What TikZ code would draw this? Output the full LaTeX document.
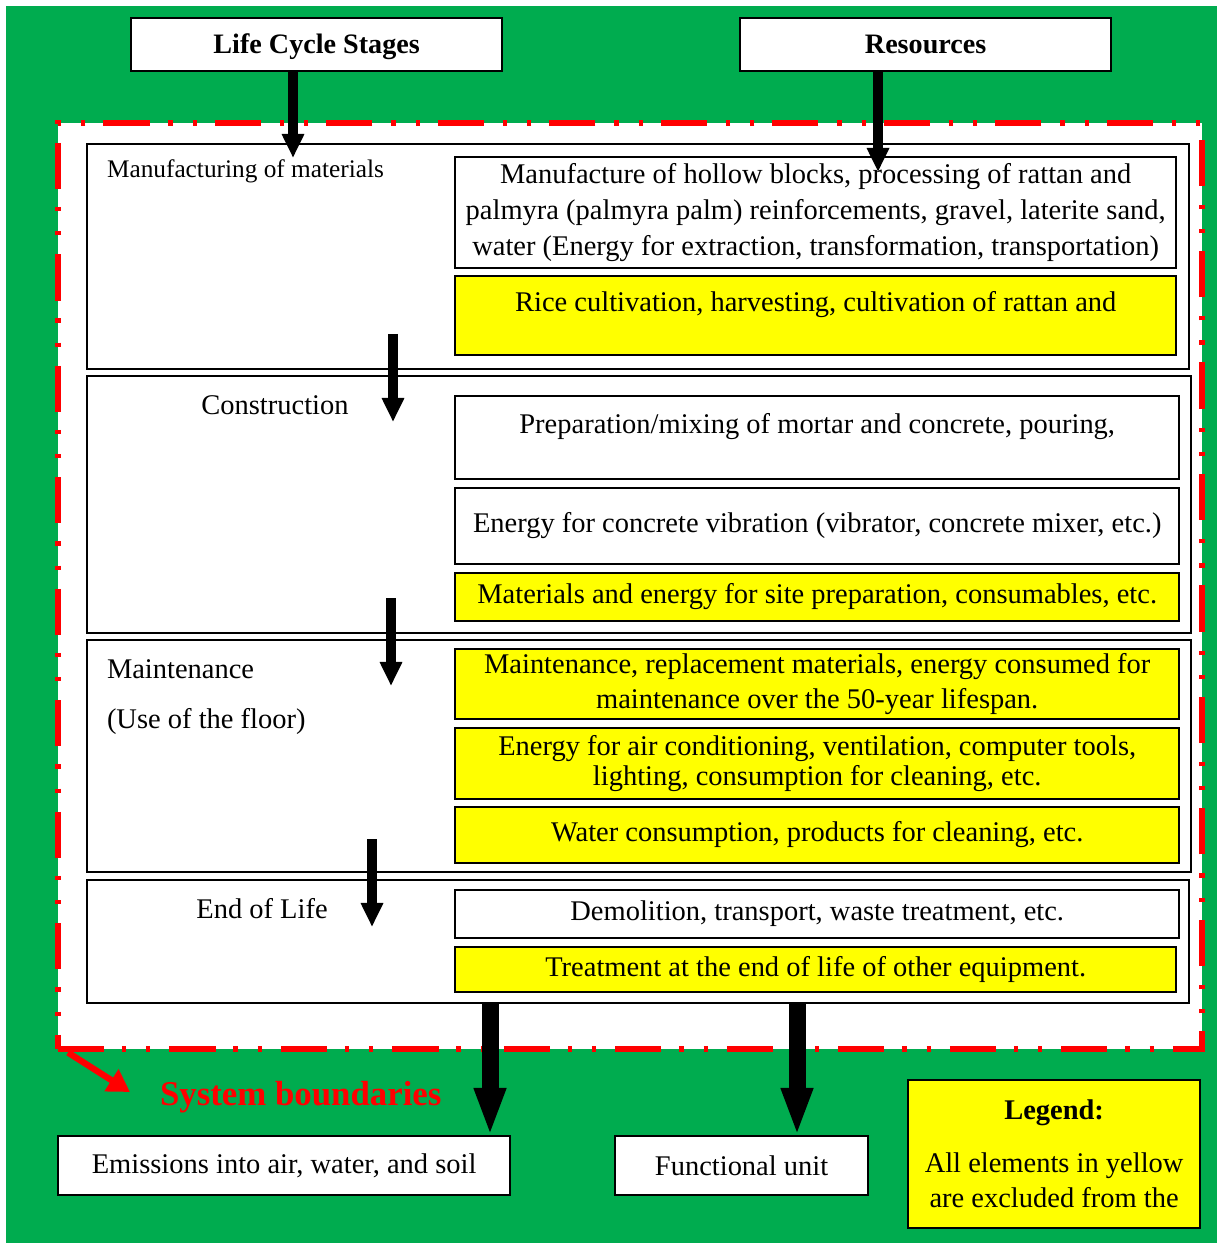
\documentclass[tikz,border=0pt]{standalone}
\usepackage{fontspec}
\setmainfont{Liberation Serif}
\usetikzlibrary{arrows.meta, positioning}
\definecolor{clrBg}{HTML}{00AC4F}
\definecolor{clrExcl}{HTML}{FFFF00}
\definecolor{clrBound}{HTML}{FF0000}

\begin{document}
\begin{tikzpicture}[
  x=0.01cm, y=-0.01cm,
  every node/.style={outer sep=0pt},
  head/.style = {
    draw=black, line width=0.6pt, fill=white,
    anchor=north west,
    minimum width=3.71cm, minimum height=0.53cm,
    text height=6pt, text depth=0.7pt,
    font=\fontsize{8}{9}\selectfont\bfseries
  },
  boundary/.style = {
    draw=clrBound, fill=white, line width=1.7pt,
    dash pattern=on 13.1pt off 5.1pt on 1.2pt off 5.7pt on 1.2pt off 5.4pt,
    anchor=north west,
    minimum width=11.43cm, minimum height=9.25cm
  },
  stagebox/.style = {
    draw=black, line width=0.5pt, fill=white,
    anchor=north west, minimum width=11.01cm
  },
  resbox/.style = {
    draw=black, line width=0.6pt, fill=white,
    anchor=north west, inner sep=0pt,
    minimum width=7.24cm,
    align=center,
    font=\fontsize{8.1}{10.2}\selectfont
  },
  excl/.style = {resbox, fill=clrExcl},
  lbl/.style = {font=\fontsize{8.1}{10.2}\selectfont, align=left, inner sep=0pt},
  outbox/.style = {
    draw=black, line width=0.6pt, fill=white,
    anchor=north west, minimum height=0.59cm,
    font=\fontsize{8.1}{10.2}\selectfont
  },
  flow/.style = {
    -{Triangle[length=0.24cm, width=0.21cm]},
    line width=0.1cm, black
  },
  outflow/.style = {
    -{Triangle[length=0.48cm, width=0.29cm]},
    line width=0.17cm, black
  },
  bndarrow/.style = {
    -{Triangle[length=0.22cm, width=0.25cm]},
    line width=1.8pt, clrBound
  }
]

% ── canvas ───────────────────────────────────────────────────────────────────
\useasboundingbox (0,0) rectangle (1217,1243);
\fill[white] (0,0) rectangle (1217,1243);
\fill[clrBg] (6,6) rectangle (1217,1243);

% ── headers ──────────────────────────────────────────────────────────────────
\node[head] (lcs) at (131,18) {Life Cycle Stages};
\node[head] (res) at (740,18) {Resources};

% ── system boundary and stages ───────────────────────────────────────────────
\node[boundary] (sysbnd) at (58,123) {};

\node[stagebox, minimum height=2.25cm] (manuf) at (87,144) {};
\node[stagebox, minimum width=11.03cm, minimum height=2.57cm] (constr) at (87,376) {};
\node[stagebox, minimum width=11.03cm, minimum height=2.32cm] (maint) at (87,640) {};
\node[stagebox, minimum height=1.23cm] (eol) at (87,880) {};

\node[lbl, anchor=west, font=\fontsize{7.2}{8}\selectfont] (lmanuf) at (107,171) {Manufacturing of materials};
\node[lbl] (lconstr) at (275,405) {Construction};
\node[lbl, anchor=west] (lmaint) at (107,669) {Maintenance};
\node[lbl, anchor=west] (luse) at (107,721) {(Use of the floor)};
\node[lbl] (leol) at (262,909) {End of Life};

% ── resources ────────────────────────────────────────────────────────────────
\node[resbox, minimum width=7.21cm, minimum height=1.11cm] (mres) at (455,157)
  {Manufacture of hollow blocks, processing of rattan and\\
   palmyra (palmyra palm) reinforcements, gravel, laterite sand,\\
   water (Energy for extraction, transformation, transportation)};
\node[excl, minimum width=7.21cm, minimum height=0.79cm] (mexcl) at (455,276)
  {Rice cultivation, harvesting, cultivation of rattan and\\[-5.5pt] \strut};

\node[resbox, minimum height=0.83cm] (cprep) at (455,396)
  {Preparation/mixing of mortar and concrete, pouring,\\[-5.5pt] \strut};
\node[resbox, minimum height=0.76cm] (cvib) at (455,488)
  {Energy for concrete vibration (vibrator, concrete mixer, etc.)};
\node[excl, minimum height=0.48cm] (csite) at (455,573)
  {Materials and energy for site preparation, consumables, etc.};

\node[excl, minimum height=0.70cm] (mrepl) at (455,649)
  {Maintenance, replacement materials, energy consumed for\\
   maintenance over the 50-year lifespan.};
\node[excl, minimum height=0.71cm, font=\fontsize{8.1}{7.1}\selectfont] (menergy) at (455,728)
  {Energy for air conditioning, ventilation, computer tools,\\
   lighting, consumption for cleaning, etc.};
\node[excl, minimum height=0.56cm] (mwater) at (455,807)
  {Water consumption, products for cleaning, etc.};

\node[resbox, minimum height=0.48cm] (edemo) at (455,890)
  {Demolition, transport, waste treatment, etc.};
\node[excl, minimum width=7.21cm, minimum height=0.45cm] (eequip) at (455,947)
  {Treatment at the end of life of other equipment.};

% ── outputs and legend ───────────────────────────────────────────────────────
\node[outbox, minimum width=4.52cm] (emis) at (58,1136) {Emissions into air, water, and soil};
\node[outbox, minimum width=2.53cm] (funit) at (615,1136) {Functional unit};

\node[
  draw=black, line width=0.6pt, fill=clrExcl,
  anchor=north west, minimum width=2.92cm, minimum height=1.48cm,
  align=center, font=\fontsize{8.1}{10}\selectfont
] (legend) at (908,1080)
  {\textbf{Legend:}\\[5pt] All elements in yellow\\ are excluded from the};

\node[anchor=west, inner sep=0pt, text=clrBound, font=\fontsize{9.9}{12}\selectfont\bfseries] (sysb) at (160,1097) {System boundaries};

% ── arrows ───────────────────────────────────────────────────────────────────
\coordinate (lcsTip) at (293,158);
\coordinate (resTip) at (878,172);
\coordinate (a1s) at (393,334);  \coordinate (a1e) at (393,422);
\coordinate (a2s) at (391,598);  \coordinate (a2e) at (391,686);
\coordinate (a3s) at (372,839);  \coordinate (a3e) at (372,927);
\coordinate (emisIn) at (490,0);
\coordinate (funitIn) at (797,0);

\draw[flow] (lcs.south -| lcsTip) -- (lcsTip);
\draw[flow] (res.south -| resTip) -- (resTip);
\draw[flow] (a1s) -- (a1e);
\draw[flow] (a2s) -- (a2e);
\draw[flow] (a3s) -- (a3e);
\draw[outflow] (eol.south -| emisIn) -- (emis.north -| emisIn);
\draw[outflow] (eol.south -| funitIn) -- (funit.north -| funitIn);
\draw[bndarrow] ([shift={(10,4)}]sysbnd.south west) -- ([shift={(-30,-5)}]sysb.west);

\end{tikzpicture}
\end{document}
